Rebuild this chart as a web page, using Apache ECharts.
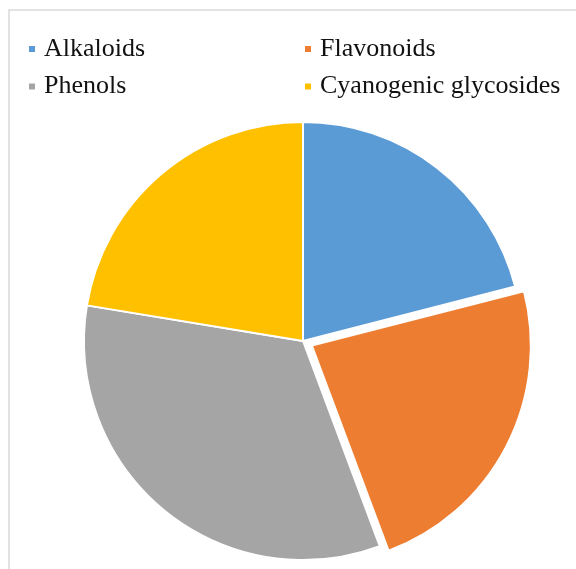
<!DOCTYPE html>
<html>
<head>
<meta charset="utf-8">
<style>
  html, body { margin: 0; padding: 0; background: #fff; }
  #chart { width: 576px; height: 569px; }
</style>
<script src="https://cdn.jsdelivr.net/npm/echarts@6/dist/echarts.min.js"></script>
</head>
<body>
<div id="chart"></div>
<script>
var categories = ['Alkaloids', 'Flavonoids', 'Phenols', 'Cyanogenic glycosides'];
var shares = [21.0, 23.3, 33.3, 22.4];
var colors = ['#5B9BD5', '#ED7D31', '#A5A5A5', '#FFC000'];
var explodedName = 'Flavonoids';

var myChart = echarts.init(document.getElementById('chart'));

var pieData = categories.map(function (name, i) {
    return {
        name: name,
        value: shares[i],
        selected: name === explodedName,
        itemStyle: { color: colors[i] }
    };
});

var legendText = {
    fontFamily: '"Liberation Serif", "Times New Roman", serif',
    fontSize: 26,
    lineHeight: 26,
    color: '#111',
    padding: [0, 0, 0, 3]
};

function makeLegend(left, names) {
    return {
        orient: 'vertical',
        left: left,
        top: 36,
        padding: 0,
        itemWidth: 8,
        itemHeight: 8,
        itemGap: 11.5,
        icon: 'rect',
        selectedMode: false,
        data: names,
        textStyle: legendText
    };
}

var option = {
    animation: false,
    backgroundColor: '#fff',
    graphic: [{
        type: 'rect',
        shape: { x: 9, y: 10, width: 620, height: 620 },
        style: { fill: 'none', stroke: '#d9d9d9', lineWidth: 1.5 },
        silent: true
    }],
    legend: [
        makeLegend(27, ['Alkaloids', 'Phenols']),
        makeLegend(303, ['Flavonoids', 'Cyanogenic glycosides'])
    ],
    series: [{
        type: 'pie',
        center: [303, 341],
        radius: 219,
        startAngle: 90,
        clockwise: true,
        selectedMode: 'single',
        selectedOffset: 10,
        label: { show: false },
        labelLine: { show: false },
        itemStyle: { borderColor: '#fff', borderWidth: 2 },
        emphasis: { disabled: true },
        select: { itemStyle: { borderColor: '#fff', borderWidth: 2 } },
        data: pieData
    }]
};

myChart.setOption(option);
</script>
</body>
</html>
